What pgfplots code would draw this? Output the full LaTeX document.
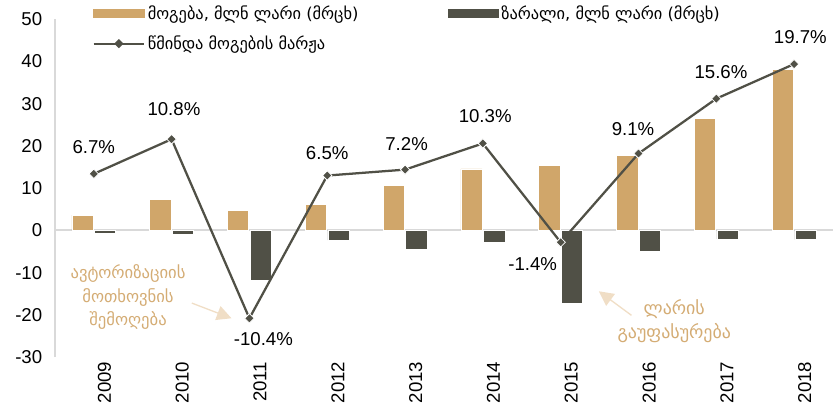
\documentclass[border=0pt]{standalone}
\usepackage{fontspec}
\setmainfont{Liberation Sans}
\newfontfamily\geo{DejaVu Sans}
\usepackage{pgfplots}
\pgfplotsset{compat=1.18}
\usetikzlibrary{arrows.meta}

\definecolor{profit}{RGB}{208,166,106}
\definecolor{loss}{RGB}{80,80,70}
\definecolor{note}{RGB}{212,172,116}
\definecolor{arrowc}{RGB}{240,222,198}
\definecolor{axgray}{RGB}{217,217,217}

\begin{document}
\begin{tikzpicture}
\begin{axis}[
    width=585pt, height=254pt, scale only axis,
    ybar=1pt, bar width=16pt,
    xmin=-0.5, xmax=9.5, ymin=-30, ymax=50,
    xtick={0,1,2,3,4,5,6,7,8,9},
    xticklabels={2009,2010,2011,2012,2013,2014,2015,2016,2017,2018},
    ytick={-30,-20,-10,0,10,20,30,40,50},
    yticklabels={-30,-20,-10,0,10,20,30,40,50},
    major tick length=0pt,
    axis x line*=bottom,
    axis y line*=left,
    x axis line style={draw=none},
    y axis line style={draw=axgray, line width=1pt, -},
    tick label style={font=\fontsize{14}{16}\selectfont},
    yticklabel style={xshift=-6pt},
    x tick label style={rotate=90, anchor=east},
    xticklabel style={yshift=-8pt},
    clip=false,
    legend columns=2,
    legend style={at={(axis cs:-0.07,54.6)}, anchor=north west, draw=none, fill=none,
        font=\geo\fontsize{12.3}{14}\selectfont, row sep=7pt,
        /tikz/every even column/.append style={column sep=65pt}},
    legend cell align=left,
]
% fixed margins as in the reference
\path (axis cs:-0.5,-30) ++(-41.25pt,-42pt);
\path (axis cs:9.5,50) ++(0pt,14.5pt);
% zero line
\draw[axgray, line width=1.5pt] (axis cs:-0.5,0) -- (axis cs:9.5,0);

\addplot[fill=profit, draw=white, line width=0.4pt,
    legend image code/.code={\fill[profit] (0pt,-2.8pt) rectangle (38pt,2.8pt);}]
    coordinates {(0,3.6) (1,7.3) (2,4.8) (3,6.2) (4,10.7) (5,14.6) (6,15.4) (7,17.7) (8,26.6) (9,38.2)};
\addlegendentry{მოგება, მლნ ლარი (მრცხ)}

\addplot[fill=loss, draw=white, line width=0.4pt,
    legend image code/.code={\fill[loss] (0pt,-2.8pt) rectangle (38pt,2.8pt);}]
    coordinates {(0,-0.6) (1,-0.8) (2,-11.8) (3,-2.3) (4,-4.5) (5,-2.7) (6,-17.2) (7,-5.0) (8,-2.0) (9,-2.2)};
\addlegendentry{ზარალი, მლნ ლარი (მრცხ)}

% net profit margin, plotted at twice its percentage on the left scale
\addplot[sharp plot, loss, line width=1.7pt, mark=square*, mark size=2.5pt,
    mark options={fill=loss, draw=white, line width=0.6pt, rotate=45},
    legend image code/.code={\draw[loss, line width=1.5pt] (0pt,0pt) -- (38pt,0pt);
        \fill[loss] (19pt,2.2pt) -- (21.2pt,0pt) -- (19pt,-2.2pt) -- (16.8pt,0pt) -- cycle;}]
    coordinates {(0,13.4) (1,21.6) (2,-20.8) (3,13.0) (4,14.4) (5,20.6) (6,-2.8) (7,18.2) (8,31.2) (9,39.4)};
\addlegendentry{წმინდა მოგების მარჟა}

\begin{scope}[font=\fontsize{14}{16}\selectfont]
\node at (axis cs:0,19.8) {6.7\%};
\node at (axis cs:1.03,28.8) {10.8\%};
\node at (axis cs:2.18,-25.7) {-10.4\%};
\node at (axis cs:3.0,18.4) {6.5\%};
\node at (axis cs:4.02,20.5) {7.2\%};
\node at (axis cs:5.03,27.0) {10.3\%};
\node at (axis cs:5.64,-8.0) {-1.4\%};
\node at (axis cs:6.93,24.1) {9.1\%};
\node at (axis cs:8.06,37.4) {15.6\%};
\node at (axis cs:9.08,45.8) {19.7\%};
\end{scope}

\node[align=center, text=note, font=\geo\fontsize{12.5}{17.5}\selectfont] at (axis cs:0.44,-15.8)
    {ავტორიზაციის\\მოთხოვნის\\შემოღება};
\draw[arrowc, line width=1pt, -{Triangle[length=11pt, width=11pt]}] (axis cs:1.26,-17.2) -- (axis cs:1.77,-20.8);

\node[align=center, text=note, font=\geo\fontsize{13.5}{17.5}\selectfont] at (axis cs:7.46,-21.5)
    {ლარის\\გაუფასურება};
\draw[arrowc, line width=1pt, -{Triangle[length=11pt, width=11pt]}] (axis cs:6.91,-20.1) -- (axis cs:6.49,-14.4);
\end{axis}
\end{tikzpicture}
\end{document}
